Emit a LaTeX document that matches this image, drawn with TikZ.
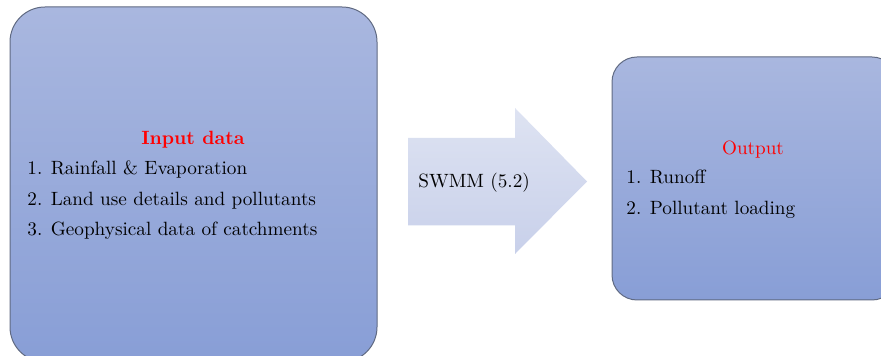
\documentclass[tikz,border=0pt]{standalone}
\usepackage{fontspec}
\usetikzlibrary{positioning}
\definecolor{boxtop}{RGB}{169,183,223}
\definecolor{boxbot}{RGB}{136,158,214}
\definecolor{boxline}{RGB}{96,106,130}
\definecolor{arrtop}{RGB}{222,227,242}
\definecolor{arrbot}{RGB}{200,208,234}
\tikzset{
    box/.style={draw=boxline, line width=0.5pt, top color=boxtop, bottom color=boxbot, inner sep=0pt}, % the two blue boxes
    title/.style={text=red, inner sep=0pt, anchor=base}, % red headings
    item/.style={inner sep=0pt, anchor=base west}, % list lines
    bigarrow/.style={top color=arrtop, bottom color=arrbot, draw=none},
}

\begin{document}
\begin{tikzpicture}[x=0.5pt, y=-0.5pt, font=\fontsize{9.6}{12}\selectfont]
    \useasboundingbox (0,0) rectangle (881,356);
    \clip (0,0) rectangle (881,356);

    % boxes
    \node[box, rounded corners=17.5pt, minimum width=183.5pt, minimum height=177.5pt] (input) at (193.5,184.5) {};
    \node[box, rounded corners=12.5pt, minimum width=142.5pt, minimum height=121.5pt] (output) at (754.5,178.5) {};

    % input text
    \node[title] (intitle) at (193,145) {\bfseries Input data};
    \node[item] (in1) at (27,175) {1. Rainfall \& Evaporation};
    \node[item, below=15.25pt of in1.base west, anchor=base west] (in2) {2. Land use details and pollutants};
    \node[item, below=15.25pt of in2.base west, anchor=base west] (in3) {3. Geophysical data of catchments};

    % arrow
    \coordinate (tail) at (408,181.5);
    \coordinate (tip) at (587,181.5);
    \path[bigarrow] (tail) ++(0,-43.5) -- ++(107,0) -- ++(0,-30) -- (tip)
        -- ++(-72,72.5) -- ++(0,-28.5) -- ++(-107,0) -- cycle;
    \node[item] (swmm) at (418,188) {SWMM (5.2)};

    % output text
    \node[title] (outtitle) at (753,155) {Output};
    \node[item] (out1) at (626,184) {1. Runoff};
    \node[item, below=15.25pt of out1.base west, anchor=base west] (out2) {2. Pollutant loading};
\end{tikzpicture}
\end{document}
